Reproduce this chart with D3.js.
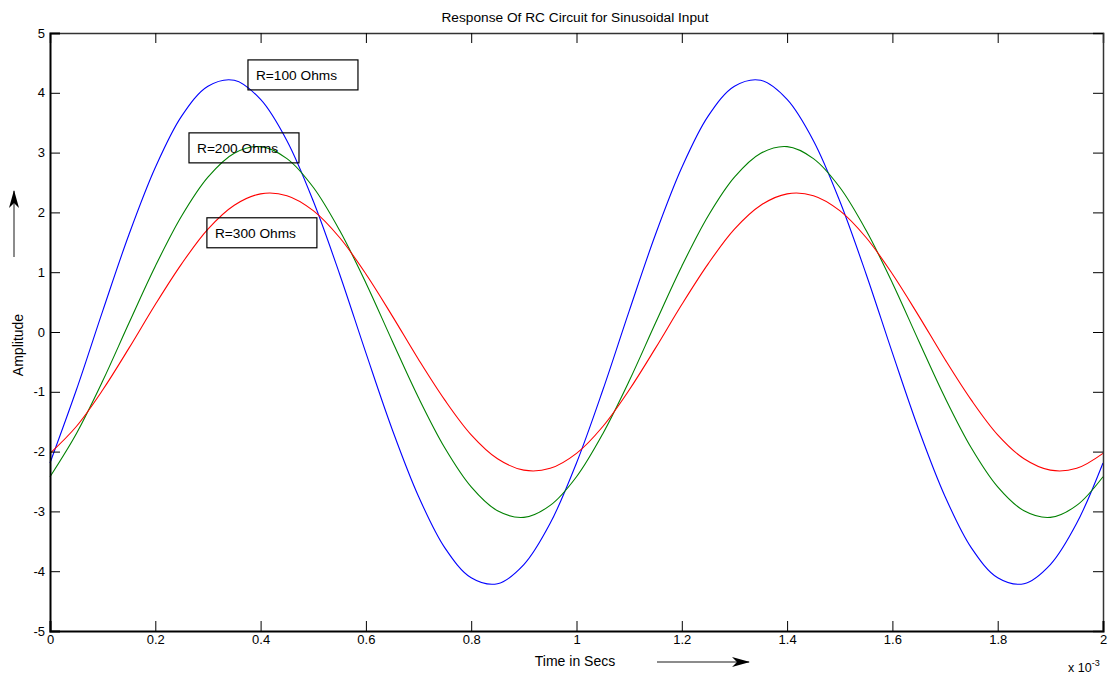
<!DOCTYPE html>
<html>
<head>
<meta charset="utf-8">
<script src="https://cdn.jsdelivr.net/npm/d3@7"></script>
<style>
  body { margin: 0; background: #fff; }
  svg text { font-family: "Liberation Sans", Arial, sans-serif; fill: #000; }
</style>
</head>
<body>
<div id="chart"></div>
<script>
// time axis in ms (labelled with x 10^-3)
const timeMs = [0, 0.05, 0.1, 0.15, 0.2, 0.25, 0.3, 0.35, 0.4, 0.45, 0.5, 0.55, 0.6, 0.65, 0.7, 0.75, 0.8, 0.85, 0.9, 0.95,
                1, 1.05, 1.1, 1.15, 1.2, 1.25, 1.3, 1.35, 1.4, 1.45, 1.5, 1.55, 1.6, 1.65, 1.7, 1.75, 1.8, 1.85, 1.9, 1.95, 2];

const r100 = [-2.19, -0.97, 0.35, 1.63, 2.75, 3.61, 4.11, 4.21, 3.89, 3.20, 2.19, 0.97, -0.35, -1.63, -2.75, -3.61, -4.11, -4.21, -3.89, -3.20,
              -2.19, -0.97, 0.35, 1.63, 2.75, 3.61, 4.11, 4.21, 3.89, 3.20, 2.19, 0.97, -0.35, -1.63, -2.75, -3.61, -4.11, -4.21, -3.89, -3.20, -2.19];
const r200 = [-2.42, -1.70, -0.82, 0.15, 1.10, 1.94, 2.59, 2.99, 3.10, 2.90, 2.42, 1.70, 0.82, -0.15, -1.10, -1.94, -2.59, -2.99, -3.10, -2.90,
              -2.42, -1.70, -0.82, 0.15, 1.10, 1.94, 2.59, 2.99, 3.10, 2.90, 2.42, 1.70, 0.82, -0.15, -1.10, -1.94, -2.59, -2.99, -3.10, -2.90, -2.42];
const r300 = [-2.03, -1.58, -0.97, -0.27, 0.46, 1.14, 1.72, 2.12, 2.31, 2.28, 2.03, 1.58, 0.97, 0.27, -0.46, -1.14, -1.72, -2.12, -2.31, -2.28,
              -2.03, -1.58, -0.97, -0.27, 0.46, 1.14, 1.72, 2.12, 2.31, 2.28, 2.03, 1.58, 0.97, 0.27, -0.46, -1.14, -1.72, -2.12, -2.31, -2.28, -2.03];

const seriesNames = ["R=100 Ohms", "R=200 Ohms", "R=300 Ohms"];
const xTicks = [0, 0.2, 0.4, 0.6, 0.8, 1, 1.2, 1.4, 1.6, 1.8, 2];
const yTicks = [-5, -4, -3, -2, -1, 0, 1, 2, 3, 4, 5];

const W = 1119, H = 677;
const margin = { top: 33, right: 16, bottom: 46, left: 50 };

const svg = d3.select("#chart").append("svg")
    .attr("width", W)
    .attr("height", H);

const x = d3.scaleLinear().domain([0, 2]).range([margin.left, W - margin.right]);
const y = d3.scaleLinear().domain([-5, 5]).range([H - margin.bottom, margin.top]);

// curves
const series = [
    { name: seriesNames[0], values: r100, color: "#0000ff", box: [0.376, 4.55] },
    { name: seriesNames[1], values: r200, color: "#008000", box: [0.264, 3.33] },
    { name: seriesNames[2], values: r300, color: "#ff0000", box: [0.298, 1.91] }
];

const line = d3.line()
    .x((d, i) => x(timeMs[i]))
    .y(d => y(d))
    .curve(d3.curveCatmullRom);

svg.append("g")
    .selectAll("path")
    .data(series)
    .join("path")
    .attr("fill", "none")
    .attr("stroke", d => d.color)
    .attr("stroke-width", 1.1)
    .attr("d", d => line(d.values));

// axes, ticks pointing inward like matlab
const fmt = d => String(+d.toFixed(1));

svg.append("g")
    .attr("transform", `translate(0,${margin.top})`)
    .call(d3.axisTop(x).tickValues(xTicks).tickSize(-10).tickFormat(""))
    .call(g => g.select(".domain").attr("stroke", "#333").attr("stroke-width", 1.5));

svg.append("g")
    .attr("transform", `translate(${W - margin.right},0)`)
    .call(d3.axisRight(y).tickValues(yTicks).tickSize(-10).tickFormat(""))
    .call(g => g.select(".domain").attr("stroke", "#333").attr("stroke-width", 1.5));

svg.append("g")
    .attr("transform", `translate(0,${H - margin.bottom})`)
    .call(d3.axisBottom(x).tickValues(xTicks).tickSize(-10).tickPadding(4).tickFormat(fmt))
    .call(g => g.select(".domain").attr("stroke-width", 2))
    .call(g => g.selectAll("text").attr("font-size", 13));

svg.append("g")
    .attr("transform", `translate(${margin.left},0)`)
    .call(d3.axisLeft(y).tickValues(yTicks).tickSize(-10).tickPadding(5).tickFormat(d => String(d)))
    .call(g => g.select(".domain").attr("stroke-width", 2))
    .call(g => g.selectAll("text").attr("font-size", 13));

svg.selectAll(".tick line").attr("stroke", "#000");
svg.selectAll(".domain").attr("fill", "none");

// title
svg.append("text")
    .attr("x", 575)
    .attr("y", 22)
    .attr("text-anchor", "middle")
    .attr("font-size", 13.7)
    .text("Response Of RC Circuit for Sinusoidal Input");

// annotation boxes
const ann = svg.append("g")
    .selectAll("g")
    .data(series)
    .join("g")
    .attr("transform", d => `translate(${x(d.box[0])},${y(d.box[1])})`);

ann.append("rect")
    .attr("width", 110)
    .attr("height", 30)
    .attr("fill", "none")
    .attr("stroke", "#000")
    .attr("stroke-width", 1.2);

ann.append("text")
    .attr("x", 8)
    .attr("y", 20)
    .attr("font-size", 13.7)
    .text(d => d.name);

// arrow marker
svg.append("defs").append("marker")
    .attr("id", "arrow")
    .attr("viewBox", "0 0 18 12")
    .attr("refX", 17)
    .attr("refY", 6)
    .attr("markerWidth", 18)
    .attr("markerHeight", 12)
    .attr("markerUnits", "userSpaceOnUse")
    .attr("orient", "auto")
    .append("path")
    .attr("d", "M0,1 L18,6 L0,11 L5,6 Z")
    .attr("fill", "#000");

// y label + arrow
svg.append("text")
    .attr("transform", "translate(23,345) rotate(-90)")
    .attr("text-anchor", "middle")
    .attr("font-size", 14)
    .text("Amplitude");

svg.append("line")
    .attr("x1", 14).attr("y1", 257)
    .attr("x2", 14).attr("y2", 191)
    .attr("stroke", "#666")
    .attr("stroke-width", 1.5)
    .attr("marker-end", "url(#arrow)");

// x label + arrow
svg.append("text")
    .attr("x", 575)
    .attr("y", 666)
    .attr("text-anchor", "middle")
    .attr("font-size", 14)
    .text("Time in Secs");

svg.append("line")
    .attr("x1", 657).attr("y1", 662)
    .attr("x2", 749).attr("y2", 662)
    .attr("stroke", "#666")
    .attr("stroke-width", 1.5)
    .attr("marker-end", "url(#arrow)");

// exponent label
const ex = svg.append("text")
    .attr("x", 1068)
    .attr("y", 672)
    .attr("font-size", 12.5);
ex.append("tspan").text("x 10");
ex.append("tspan").attr("dy", -6).attr("font-size", 9).text("-3");
</script>
</body>
</html>
